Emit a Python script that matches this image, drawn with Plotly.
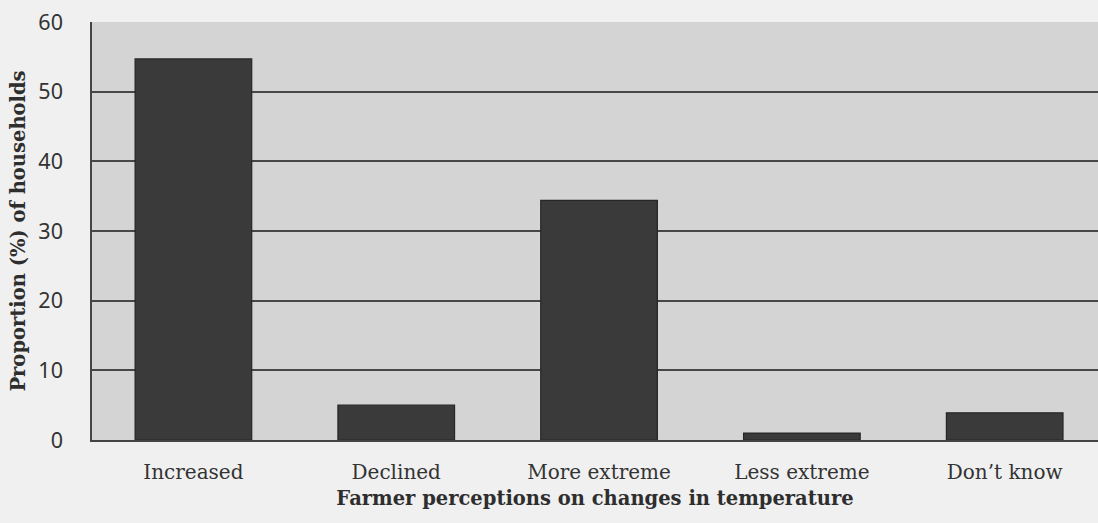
import plotly.graph_objects as go

# Perception categories and share of households (%)
categories = ["Increased", "Declined", "More extreme", "Less extreme", "Don\u2019t know"]
shares = [54.7, 5.0, 34.4, 1.0, 3.9]
y_ticks = [0, 10, 20, 30, 40, 50, 60]

SERIF = "DejaVu Serif, Liberation Serif, serif"

fig = go.Figure(
    go.Bar(
        x=categories,
        y=shares,
        width=0.575,
        marker=dict(color="#3a3a3a", line=dict(color="#262626", width=1.2)),
    )
)

fig.update_layout(
    width=1098,
    height=523,
    margin=dict(l=92, r=0, t=22, b=83),
    paper_bgcolor="#f0f0f0",
    plot_bgcolor="#d4d4d4",
    showlegend=False,
)

fig.update_xaxes(
    type="category",
    range=[-0.5, 4.46],
    showgrid=False,
    showline=True,
    linecolor="#444444",
    linewidth=1.5,
    ticks="",
    ticklabelstandoff=13,
    tickfont=dict(family=SERIF, size=20, color="#333333"),
    title=dict(
        text="<b>Farmer perceptions on changes in temperature</b>",
        font=dict(family=SERIF, size=19.5, color="#2e2e2e"),
        standoff=9,
    ),
)

fig.update_yaxes(
    range=[0, 60],
    tickvals=y_ticks,
    showgrid=True,
    gridcolor="#474747",
    gridwidth=1.5,
    zeroline=False,
    showline=True,
    linecolor="#444444",
    linewidth=1.5,
    ticks="",
    ticklabelstandoff=23,
    tickfont=dict(family="Noto Sans, Open Sans, sans-serif", size=21.5, color="#333333"),
    title=dict(
        text="<b>Proportion (%) of households</b>",
        font=dict(family=SERIF, size=19.5, color="#2e2e2e"),
        standoff=8,
    ),
)

fig.write_html("out.html")
